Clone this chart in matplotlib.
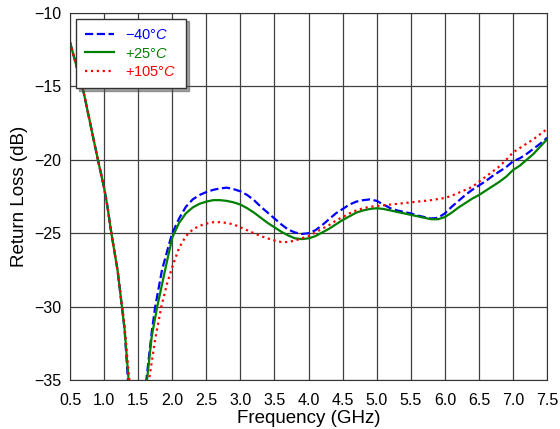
import matplotlib
matplotlib.use('Agg')
import matplotlib.pyplot as plt

plt.rcParams['font.family'] = ['Liberation Sans', 'DejaVu Sans']
plt.rcParams['mathtext.fontset'] = 'custom'
plt.rcParams['mathtext.rm'] = 'Liberation Sans'
plt.rcParams['mathtext.it'] = 'Liberation Sans:italic'

# Return loss vs frequency
freq_cold = [0.5, 0.6, 0.7, 0.8, 0.9, 1.0, 1.05, 1.1, 1.2, 1.3, 1.35, 1.45, 1.55, 1.62,
             1.7, 1.75, 1.85, 1.95, 2.0, 2.1, 2.2, 2.3, 2.4, 2.5, 2.6, 2.7, 2.8, 2.9,
             3.0, 3.1, 3.2, 3.3, 3.4, 3.5, 3.6, 3.7, 3.8, 3.9, 4.0, 4.1, 4.2, 4.3,
             4.4, 4.5, 4.6, 4.7, 4.8, 4.9, 5.0, 5.1, 5.2, 5.3, 5.4, 5.5, 5.6, 5.7,
             5.8, 5.9, 6.0, 6.1, 6.2, 6.3, 6.4, 6.5, 6.6, 6.7, 6.8, 6.9, 7.0, 7.1,
             7.2, 7.3, 7.4, 7.5]
rl_cold = [-12.0, -13.7, -15.4, -17.6, -19.8, -21.9, -23.2, -24.8, -27.6, -31.5, -35.0, -42.0, -40.0, -35.0,
           -31.7, -30.0, -27.5, -25.8, -25.0, -24.0, -23.2, -22.7, -22.4, -22.2, -22.05, -21.95, -21.9, -22.0,
           -22.15, -22.4, -22.75, -23.2, -23.6, -24.0, -24.4, -24.75, -24.95, -25.05, -25.0, -24.8, -24.45, -24.05,
           -23.65, -23.35, -23.05, -22.85, -22.75, -22.7, -22.8, -23.05, -23.3, -23.45, -23.55, -23.65, -23.8, -23.9,
           -24.0, -23.95, -23.65, -23.2, -22.8, -22.4, -22.05, -21.75, -21.45, -21.1, -20.8, -20.5, -20.1, -19.9,
           -19.6, -19.25, -18.9, -18.5]

freq_room = [0.5, 0.6, 0.7, 0.8, 0.9, 1.0, 1.05, 1.1, 1.2, 1.3, 1.36, 1.45, 1.55, 1.63,
             1.7, 1.78, 1.9, 2.0, 2.1, 2.2, 2.3, 2.4, 2.5, 2.6, 2.7, 2.8, 2.9,
             3.0, 3.1, 3.2, 3.3, 3.4, 3.5, 3.6, 3.7, 3.8, 3.9, 4.0, 4.1, 4.2, 4.3,
             4.4, 4.5, 4.6, 4.7, 4.8, 4.9, 5.0, 5.1, 5.2, 5.3, 5.4, 5.5, 5.6, 5.7,
             5.8, 5.9, 6.0, 6.1, 6.2, 6.3, 6.4, 6.5, 6.6, 6.7, 6.8, 6.9, 7.0, 7.1,
             7.2, 7.3, 7.4, 7.5]
rl_room = [-12.0, -13.7, -15.4, -17.6, -19.8, -21.9, -23.2, -24.8, -27.6, -31.5, -35.0, -42.0, -40.0, -35.0,
           -32.0, -30.0, -27.4, -25.3, -24.3, -23.65, -23.25, -23.0, -22.85, -22.75, -22.75, -22.8, -22.9,
           -23.05, -23.3, -23.6, -23.95, -24.3, -24.6, -24.9, -25.15, -25.35, -25.4, -25.35, -25.2, -24.95, -24.7,
           -24.4, -24.1, -23.85, -23.6, -23.45, -23.35, -23.3, -23.35, -23.45, -23.55, -23.65, -23.75, -23.85, -23.95,
           -24.05, -24.05, -23.9, -23.6, -23.25, -22.95, -22.65, -22.4, -22.1, -21.8, -21.5, -21.15, -20.7, -20.4,
           -20.0, -19.6, -19.1, -18.6]

freq_hot = [0.5, 0.6, 0.7, 0.8, 0.9, 1.0, 1.05, 1.1, 1.2, 1.3, 1.37, 1.47, 1.58, 1.66,
            1.75, 1.84, 1.92, 2.0, 2.1, 2.2, 2.3, 2.4, 2.5, 2.6, 2.7, 2.8, 2.9,
            3.0, 3.1, 3.2, 3.3, 3.4, 3.5, 3.6, 3.7, 3.8, 3.9, 4.0, 4.1, 4.2, 4.3,
            4.4, 4.5, 4.6, 4.7, 4.8, 4.9, 5.0, 5.2, 5.4, 5.6, 5.8, 6.0, 6.1, 6.2,
            6.3, 6.4, 6.5, 6.6, 6.7, 6.8, 6.9, 7.0, 7.1, 7.2, 7.3, 7.4, 7.5]
rl_hot = [-12.0, -13.7, -15.4, -17.6, -19.8, -21.9, -23.2, -24.8, -27.6, -31.3, -35.0, -42.0, -40.0, -35.0,
          -32.2, -30.0, -28.5, -27.3, -26.0, -25.2, -24.75, -24.5, -24.35, -24.25, -24.25, -24.3, -24.4,
          -24.6, -24.8, -25.0, -25.2, -25.35, -25.5, -25.6, -25.6, -25.5, -25.35, -25.2, -24.95, -24.7, -24.45,
          -24.15, -23.9, -23.65, -23.45, -23.3, -23.2, -23.15, -23.05, -22.95, -22.85, -22.75, -22.6, -22.45, -22.25,
          -22.05, -21.85, -21.5, -21.15, -20.8, -20.45, -20.0, -19.5, -19.2, -18.9, -18.6, -18.25, -17.9]

labels = [r'$-40°C$', r'$+25°C$', r'$+105°C$']
colors = ['#0000ff', '#008000', '#ff0000']
xticks = [0.5, 1.0, 1.5, 2.0, 2.5, 3.0, 3.5, 4.0, 4.5, 5.0, 5.5, 6.0, 6.5, 7.0, 7.5]
yticks = [-35, -30, -25, -20, -15, -10]

fig = plt.figure(figsize=(5.6, 4.29), dpi=100)
ax = fig.add_axes([0.125, 0.114, 0.852, 0.856])

ax.plot(freq_cold, rl_cold, color=colors[0], linestyle='--', linewidth=1.6, label=labels[0])
ax.plot(freq_room, rl_room, color=colors[1], linestyle='-', linewidth=1.6, label=labels[1])
ax.plot(freq_hot, rl_hot, color=colors[2], linestyle=':', linewidth=1.6, label=labels[2])

ax.set_xlim(0.5, 7.5)
ax.set_ylim(-35, -10)
ax.set_xticks(xticks)
ax.set_xticklabels(['%.1f' % t for t in xticks])
ax.set_yticks(yticks)
ax.set_yticklabels(['\u2212%d' % abs(t) for t in yticks])
ax.tick_params(length=0, labelsize=11.5)
ax.tick_params(axis='x', pad=9)
ax.tick_params(axis='y', pad=6)
ax.grid(True, color='0.25', linewidth=0.9)
for s in ax.spines.values():
    s.set_color('0.2')

ax.set_xlabel('Frequency (GHz)', fontsize=13.5, labelpad=2)
ax.set_ylabel('Return Loss (dB)', fontsize=13.5, labelpad=5)

leg = ax.legend(loc='upper left', fontsize=10.5, shadow=True, fancybox=False,
                framealpha=1, edgecolor='0.2', borderaxespad=0.4, borderpad=0.65,
                handlelength=2.0, handletextpad=0.75, labelspacing=0.3)
for txt, c in zip(leg.get_texts(), colors):
    txt.set_color(c)

fig.savefig('out.png', dpi=100)
